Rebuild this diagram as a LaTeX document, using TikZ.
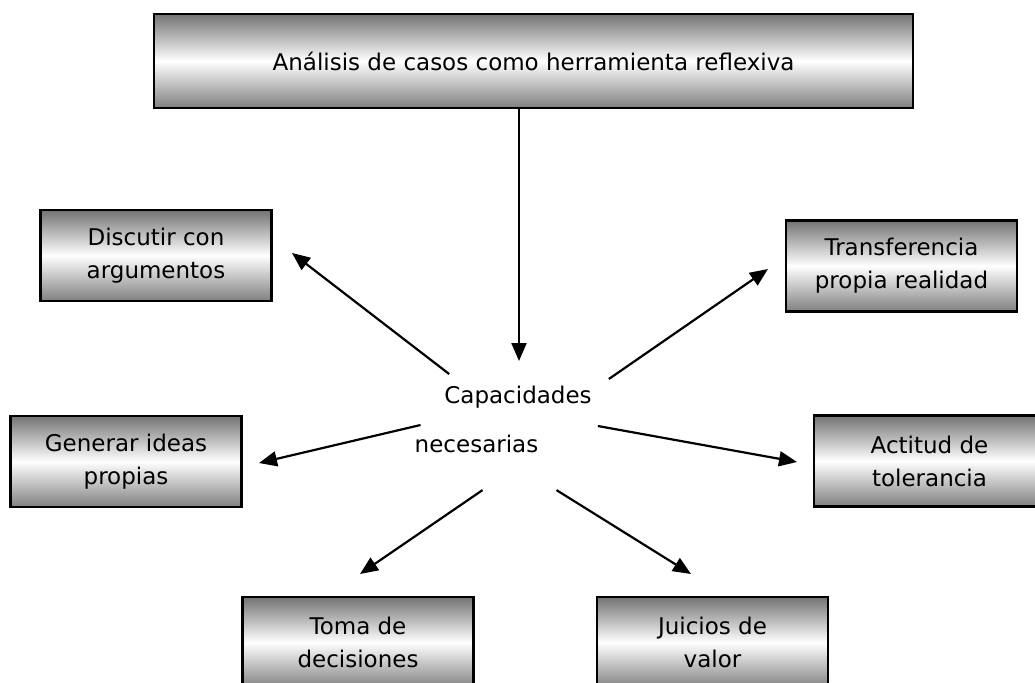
\documentclass[tikz,border=0pt]{standalone}
\usepackage{fontspec}
\setmainfont{DejaVu Sans}
\usetikzlibrary{arrows.meta,calc,positioning}
\tikzset{
	concept map/.style={
		x=1pt, y=-1pt,
		every node/.style={font=\fontsize{23}{33}\selectfont},
		ar/.style={line width=2.2pt, -{Triangle[length=18pt,width=15pt]}}
		},
	capbox/.style={draw, line width=2.4pt, align=center, inner sep=0pt,
		top color=black!55, bottom color=black!50, middle color=white,
		minimum width=231pt, minimum height=91pt},
	lbl/.style={inner sep=0pt}
}

\begin{document}
\begin{tikzpicture}[concept map]
	\useasboundingbox (0,0) rectangle (1035,682);
	\node[capbox, minimum width=759pt, minimum height=94pt] (top) at (533.5,61) {Análisis de casos como herramienta reflexiva};
	\node[capbox] (disc) at (156,255.5) {Discutir con\\argumentos};
	\node[capbox] (trans) at (901.5,266) {Transferencia\\propia realidad};
	\node[capbox] (gen) at (126,461.5) {Generar ideas\\propias};
	\node[capbox] (act) at (929.5,461) {Actitud de\\tolerancia};
	\node[capbox] (toma) at (358,642.5) {Toma de\\decisiones};
	\node[capbox] (juic) at (712.5,642.5) {Juicios de\\valor};
	\node[lbl] (cap) at (518,397) {Capacidades};
	\node[lbl] (nec) at (476.5,444) {necesarias};
	% free ends of the arrows
	\coordinate (capin) at (519,361);
	\coordinate (discin) at (292,253);
	\coordinate (transin) at (768,269);
	\coordinate (genin) at (259,463);
	\coordinate (actin) at (797,462);
	\coordinate (tomain) at (360,574);
	\coordinate (juicin) at (691,574);
	\draw[ar] (top.south -| capin) -- (capin);
	\draw[ar] ($(cap.west)+(5,-23)$) -- (discin);
	\draw[ar] ($(cap.east)+(17,-18)$) -- (transin);
	\draw[ar] ($(nec.west)+(6,-19)$) -- (genin);
	\draw[ar] ($(cap.east)+(6,29)$) -- (actin);
	\draw[ar] ($(nec.south)+(6,37)$) -- (tomain);
	\draw[ar] ($(nec.south)+(80,37)$) -- (juicin);
\end{tikzpicture}
\end{document}
